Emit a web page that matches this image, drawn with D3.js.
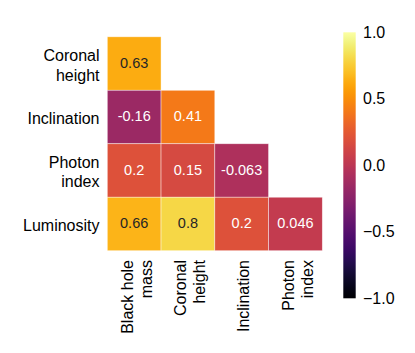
<!DOCTYPE html>
<html>
<head>
<meta charset="utf-8">
<script src="https://cdn.jsdelivr.net/npm/d3@7"></script>
<style>
  html, body { margin: 0; padding: 0; background: #ffffff; }
  svg { display: block; }
  text { font-family: "Liberation Sans", Arial, Helvetica, sans-serif; }
</style>
</head>
<body>
<svg id="chart" width="415" height="353"></svg>
<script>
// ---- data ----
const rowLabels = [["Coronal", "height"], ["Inclination"], ["Photon", "index"], ["Luminosity"]];
const colLabels = [["Black hole", "mass"], ["Coronal", "height"], ["Inclination"], ["Photon", "index"]];
const rowKeys = ["Coronal height", "Inclination", "Photon index", "Luminosity"];
const colKeys = ["Black hole mass", "Coronal height", "Inclination", "Photon index"];
const rowCoronal = [0.63];
const rowInclination = [-0.16, 0.41];
const rowPhoton = [0.2, 0.15, -0.063];
const rowLuminosity = [0.66, 0.8, 0.2, 0.046];
const annotations = [["0.63"], ["-0.16", "0.41"], ["0.2", "0.15", "-0.063"], ["0.66", "0.8", "0.2", "0.046"]];
const colorbarTicks = [1.0, 0.5, 0.0, -0.5, -1.0];
const colorbarTickLabels = ["1.0", "0.5", "0.0", "\u22120.5", "\u22121.0"];

const rowsValues = [rowCoronal, rowInclination, rowPhoton, rowLuminosity];
const cells = [];
rowsValues.forEach((vals, r) => vals.forEach((v, c) => cells.push({ r, c, v, label: annotations[r][c] })));

const svg = d3.select("#chart");

const x = d3.scaleBand().domain(colKeys).range([107.3, 322.3]).padding(0);
const y = d3.scaleBand().domain(rowKeys).range([36.8, 250.7]).padding(0);
const color = d3.scaleSequential(d3.interpolateInferno).domain([-1, 1]);

// cells
const g = svg.append("g");
g.selectAll("rect.cell").data(cells).enter().append("rect")
  .attr("class", "cell")
  .attr("x", d => x(colKeys[d.c]))
  .attr("y", d => y(rowKeys[d.r]))
  .attr("width", x.bandwidth())
  .attr("height", y.bandwidth())
  .attr("fill", d => color(d.v))
  .attr("stroke", "rgba(255,255,255,0.6)")
  .attr("stroke-width", 0.7);

// annotation text colour (seaborn-like luminance rule)
function relLum(c) {
  const rgb = d3.rgb(c);
  const f = u => { u /= 255; return u <= 0.03928 ? u / 12.92 : Math.pow((u + 0.055) / 1.055, 2.4); };
  return 0.2126 * f(rgb.r) + 0.7152 * f(rgb.g) + 0.0722 * f(rgb.b);
}
g.selectAll("text.ann").data(cells).enter().append("text")
  .attr("class", "ann")
  .attr("x", d => x(colKeys[d.c]) + x.bandwidth() / 2)
  .attr("y", d => y(rowKeys[d.r]) + y.bandwidth() / 2 + 4.3)
  .attr("text-anchor", "middle")
  .attr("font-size", "14.5px")
  .attr("fill", d => relLum(color(d.v)) > 0.408 ? "#262626" : "#ffffff")
  .text(d => d.label);

// y labels
const ylab = svg.append("g");
rowLabels.forEach((lines, i) => {
  const cy = y(rowKeys[i]) + y.bandwidth() / 2;
  const t = ylab.append("text")
    .attr("text-anchor", "end")
    .attr("font-size", "16px")
    .attr("fill", "#000");
  if (lines.length === 1) {
    t.append("tspan").attr("x", 99.5).attr("y", cy + 7.3).text(lines[0]);
  } else {
    t.append("tspan").attr("x", 99.5).attr("y", cy - 2.2).text(lines[0]);
    t.append("tspan").attr("x", 99.5).attr("y", cy + 17).text(lines[1]);
  }
});

// x labels (rotated)
const xlab = svg.append("g");
colLabels.forEach((lines, i) => {
  const cx = x(colKeys[i]) + x.bandwidth() / 2;
  const offsets = lines.length === 1 ? [7.5] : [-1.5, 17.5];
  lines.forEach((ln, k) => {
    xlab.append("text")
      .attr("transform", `translate(${cx + offsets[k]},260) rotate(-90)`)
      .attr("text-anchor", "end")
      .attr("font-size", "16px")
      .attr("fill", "#000")
      .text(ln);
  });
});

// colorbar
const cbX = 343.3, cbW = 12.4;
const cbScale = d3.scaleLinear().domain([-1, 1]).range([298.3, 32.3]);
const defs = svg.append("defs");
const grad = defs.append("linearGradient").attr("id", "cbgrad")
  .attr("x1", 0).attr("y1", 1).attr("x2", 0).attr("y2", 0);
d3.range(0, 1.0001, 0.02).forEach(t => {
  grad.append("stop").attr("offset", t).attr("stop-color", d3.interpolateInferno(t));
});
svg.append("rect")
  .attr("x", cbX).attr("y", cbScale(1))
  .attr("width", cbW).attr("height", cbScale(-1) - cbScale(1))
  .attr("fill", "url(#cbgrad)");

svg.append("g").selectAll("text").data(colorbarTicks).enter().append("text")
  .attr("x", 363)
  .attr("y", d => cbScale(d) + 5.2)
  .attr("font-size", "16px")
  .attr("fill", "#000")
  .text((d, i) => colorbarTickLabels[i]);
</script>
</body>
</html>
